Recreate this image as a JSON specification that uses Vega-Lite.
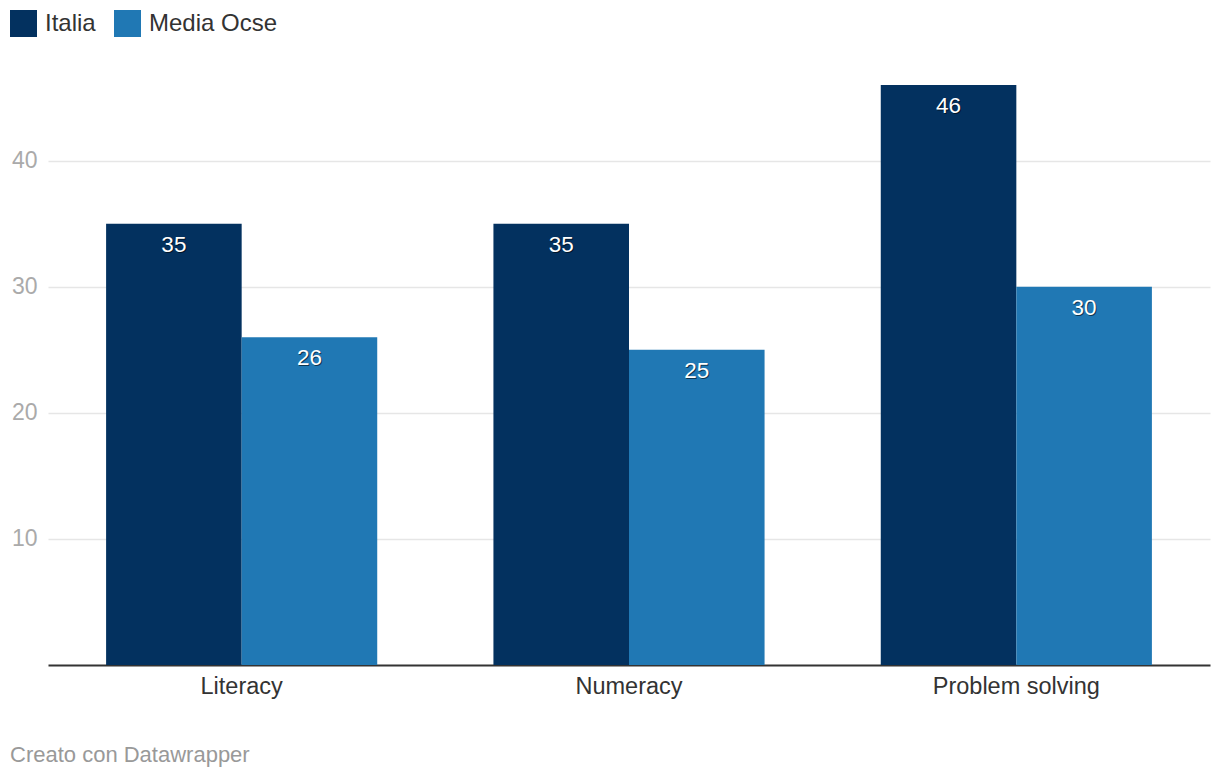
{
  "$schema": "https://vega.github.io/schema/vega-lite/v6.json",
  "width": 1162,
  "height": 580,
  "autosize": {"type": "none"},
  "padding": {"left": 48, "top": 85, "right": 10, "bottom": 113},
  "background": "#ffffff",
  "config": {
    "font": "Liberation Sans",
    "view": {"stroke": null}
  },
  "title": {
    "text": "Creato con Datawrapper",
    "orient": "bottom",
    "anchor": "start",
    "frame": "group",
    "dx": -38,
    "offset": 47,
    "fontSize": 22,
    "fontWeight": "normal",
    "color": "#999999",
    "font": "Liberation Sans"
  },
  "data": {
    "values": [
      {"categoria": "Literacy", "serie": "Italia", "valore": 35},
      {"categoria": "Literacy", "serie": "Media Ocse", "valore": 26},
      {"categoria": "Numeracy", "serie": "Italia", "valore": 35},
      {"categoria": "Numeracy", "serie": "Media Ocse", "valore": 25},
      {"categoria": "Problem solving", "serie": "Italia", "valore": 46},
      {"categoria": "Problem solving", "serie": "Media Ocse", "valore": 30}
    ]
  },
  "encoding": {
    "x": {
      "field": "categoria",
      "type": "nominal",
      "sort": null,
      "scale": {"paddingInner": 0.3, "paddingOuter": 0.15},
      "axis": {
        "title": null,
        "labelAngle": 0,
        "labelFontSize": 23.5,
        "labelColor": "#333333",
        "labelPadding": 9,
        "ticks": false,
        "domainColor": "#333333",
        "domainWidth": 2,
        "grid": false
      }
    },
    "xOffset": {"field": "serie", "type": "nominal", "sort": ["Italia", "Media Ocse"]},
    "y": {
      "field": "valore",
      "type": "quantitative",
      "scale": {"domain": [0, 46], "nice": false},
      "axis": {
        "title": null,
        "values": [10, 20, 30, 40],
        "labelFontSize": 23,
        "labelColor": "#aaaaaa",
        "labelPadding": 11,
        "ticks": false,
        "domain": false,
        "gridColor": "#e6e6e6",
        "gridWidth": 1.5
      }
    }
  },
  "layer": [
    {
      "mark": {"type": "bar"},
      "encoding": {
        "color": {
          "field": "serie",
          "type": "nominal",
          "scale": {"domain": ["Italia", "Media Ocse"], "range": ["#03315f", "#2078b4"]},
          "legend": {
            "title": null,
            "orient": "none",
            "direction": "horizontal",
            "legendX": -38,
            "legendY": -75,
            "symbolType": "square",
            "symbolSize": 729,
            "symbolStrokeWidth": 0,
            "symbolOpacity": 1,
            "labelFontSize": 24,
            "labelColor": "#333333",
            "labelOffset": 8,
            "columnPadding": 18
          }
        }
      }
    },
    {
      "mark": {"type": "text", "dy": 22, "dx": 1, "baseline": "middle", "fontSize": 22.5, "color": "#000000", "opacity": 0.55},
      "encoding": {"text": {"field": "valore", "type": "quantitative"}}
    },
    {
      "mark": {"type": "text", "dy": 21, "baseline": "middle", "fontSize": 22.5, "color": "#ffffff"},
      "encoding": {"text": {"field": "valore", "type": "quantitative"}}
    }
  ]
}
